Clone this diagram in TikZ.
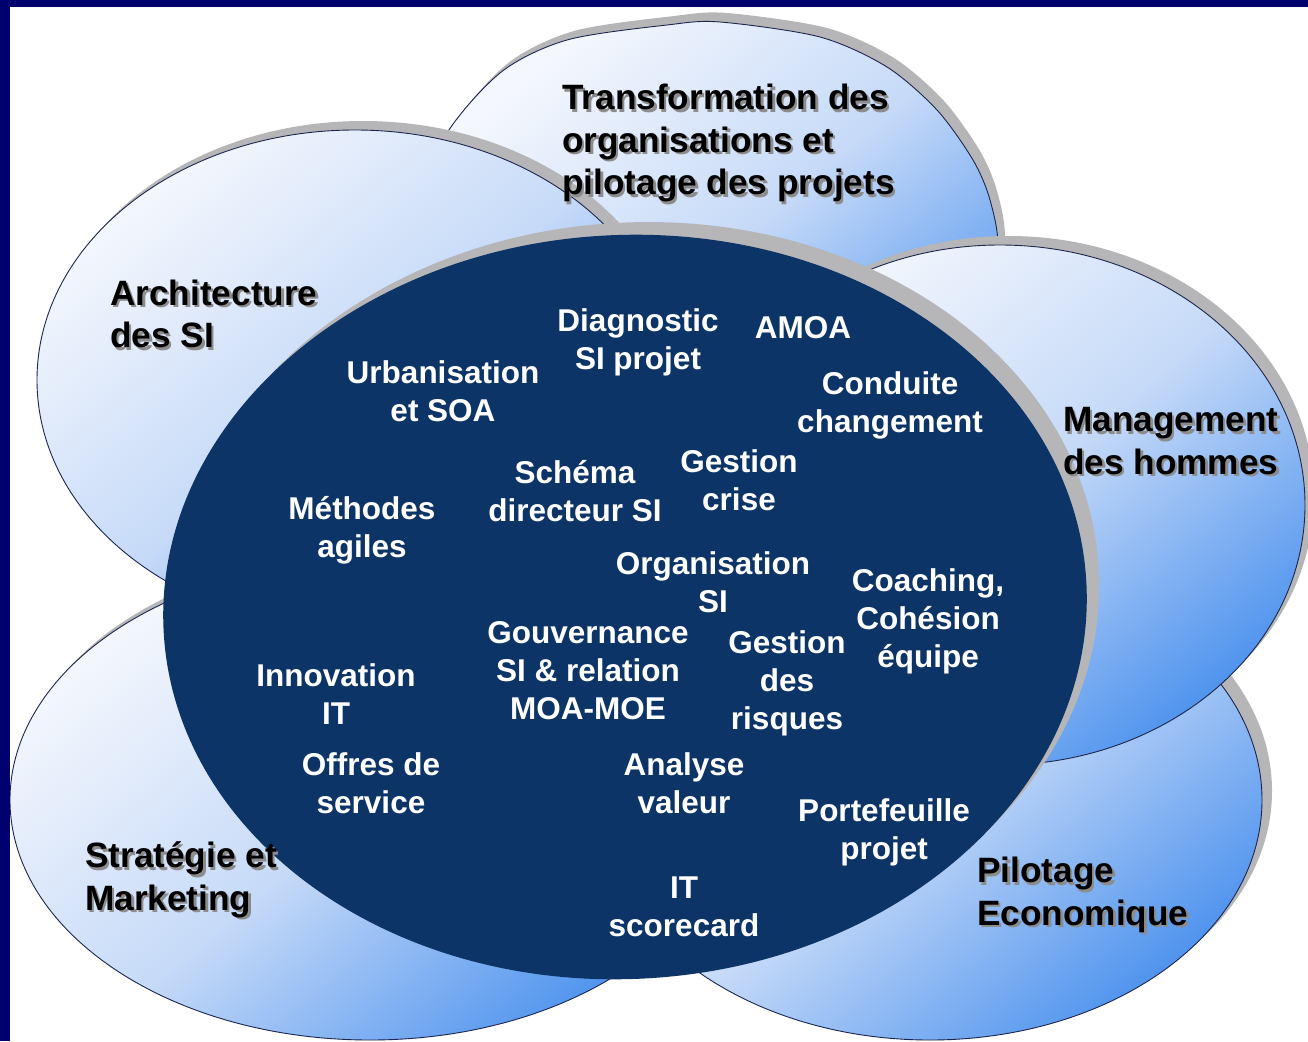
\documentclass[tikz,border=0pt]{standalone}
\usepackage{fontspec}
\setmainfont{Liberation Sans}
\definecolor{framec}{RGB}{0,0,110}
\definecolor{corec}{RGB}{12,52,102}
\definecolor{palec}{RGB}{244,247,253}
\definecolor{midc}{RGB}{198,218,248}
\definecolor{deepc}{RGB}{80,148,238}
\definecolor{rimc}{RGB}{28,38,78}
\definecolor{shadec}{RGB}{182,182,184}
\begin{document}
\begin{tikzpicture}[x=1pt,y=-1pt,
  petal/.style={draw=rimc, line width=0.9pt, top color=palec, bottom color=deepc, middle color=midc, shading angle=40},
  rimshadow/.style={fill=shadec},
  innertxt/.style={text=white, font=\bfseries\fontsize{31.5}{38}\selectfont, align=center, inner sep=0pt},
  outertxt/.style={text=black, font=\bfseries\fontsize{35.2}{42.5}\selectfont, align=left, inner sep=0pt, anchor=west},
  outershadow/.style={outertxt, text=black!45}
]
\useasboundingbox (0,0) rectangle (1308,1041);
\fill[white] (0,0) rectangle (1308,1041);

% Transformation (back)
\fill[rimshadow, shift={(7,-9)}] plot[smooth cycle] coordinates {(720,22) (820,37) (887,67) (937,110) (973,160) (990,200) (998,250) (985,330) (940,410) (850,470) (720,495) (590,470) (490,400) (440,300) (432,210) (443,140) (500,73) (567,40) (667,25)};
\path[petal] plot[smooth cycle] coordinates {(720,22) (820,37) (887,67) (937,110) (973,160) (990,200) (998,250) (985,330) (940,410) (850,470) (720,495) (590,470) (490,400) (440,300) (432,210) (443,140) (500,73) (567,40) (667,25)};
% Architecture
\fill[rimshadow] (363,371) ellipse [x radius=318pt, y radius=250pt];
\path[petal] (355,380) ellipse [x radius=318pt, y radius=250pt];
% Strategie
\fill[rimshadow] (377,792) ellipse [x radius=360pt, y radius=240pt];
\path[petal] (370,800) ellipse [x radius=360pt, y radius=240pt];
% Pilotage
\fill[rimshadow] (940,791) ellipse [x radius=332pt, y radius=240pt];
\path[petal] (930,800) ellipse [x radius=332pt, y radius=240pt];
% Management
\fill[rimshadow] (1009,496) ellipse [x radius=305pt, y radius=260pt];
\path[petal] (1000,505) ellipse [x radius=305pt, y radius=260pt];
% Core
\fill[rimshadow, rotate around={3:(625,607)}] (638,595) ellipse [x radius=462pt, y radius=372pt];
\fill[corec, rotate around={3:(625,607)}] (625,607) ellipse [x radius=462pt, y radius=372pt];

% outer labels with shadows
\node[outershadow] (transS) at (564.5,145.5) {Transformation des\\organisations et\\pilotage des projets};
\node[outertxt] (trans) at (562,143) {Transformation des\\organisations et\\pilotage des projets};
\node[outershadow] (archS) at (112.5,316.5) {Architecture\\des SI};
\node[outertxt] (arch) at (110,314) {Architecture\\des SI};
\node[outershadow] (mgmtS) at (1065.5,443.5) {Management\\des hommes};
\node[outertxt] (mgmt) at (1063,441) {Management\\des hommes};
\node[outershadow] (stratS) at (87.5,882.5) {Stratégie et\\Marketing};
\node[outertxt] (strat) at (85,880) {Stratégie et\\Marketing};
\node[outershadow] (pilS) at (979.5,897.5) {Pilotage\\Economique};
\node[outertxt] (pil) at (977,895) {Pilotage\\Economique};

% inner labels
\node[innertxt] (diag) at (638,342) {Diagnostic\\SI projet};
\node[innertxt] (amoa) at (803,328) {AMOA};
\node[innertxt] (urba) at (443,391) {Urbanisation\\et SOA};
\node[innertxt] (cond) at (890,405) {Conduite\\changement};
\node[innertxt] (schema) at (575,491) {Schéma\\directeur SI};
\node[innertxt] (crise) at (739,480) {Gestion\\crise};
\node[innertxt] (meth) at (362,530) {Méthodes\\agiles};
\node[innertxt] (orga) at (713,582) {Organisation\\SI};
\node[innertxt] (coach) at (928,621) {Coaching,\\Cohésion\\équipe};
\node[innertxt] (gouv) at (588,671) {Gouvernance\\SI \& relation\\MOA-MOE};
\node[innertxt] (risk) at (787,683) {Gestion\\des\\risques};
\node[innertxt] (innov) at (336,694) {Innovation\\IT};
\node[innertxt] (offre) at (371,783) {Offres de\\service};
\node[innertxt] (valeur) at (684,783) {Analyse\\valeur};
\node[innertxt] (porte) at (884,832) {Portefeuille\\projet};
\node[innertxt] (score) at (684,907) {IT\\scorecard};

% frame
\fill[framec] (0,0) rectangle (10,1041);
\fill[framec] (0,0) rectangle (1308,7);
\end{tikzpicture}
\end{document}
